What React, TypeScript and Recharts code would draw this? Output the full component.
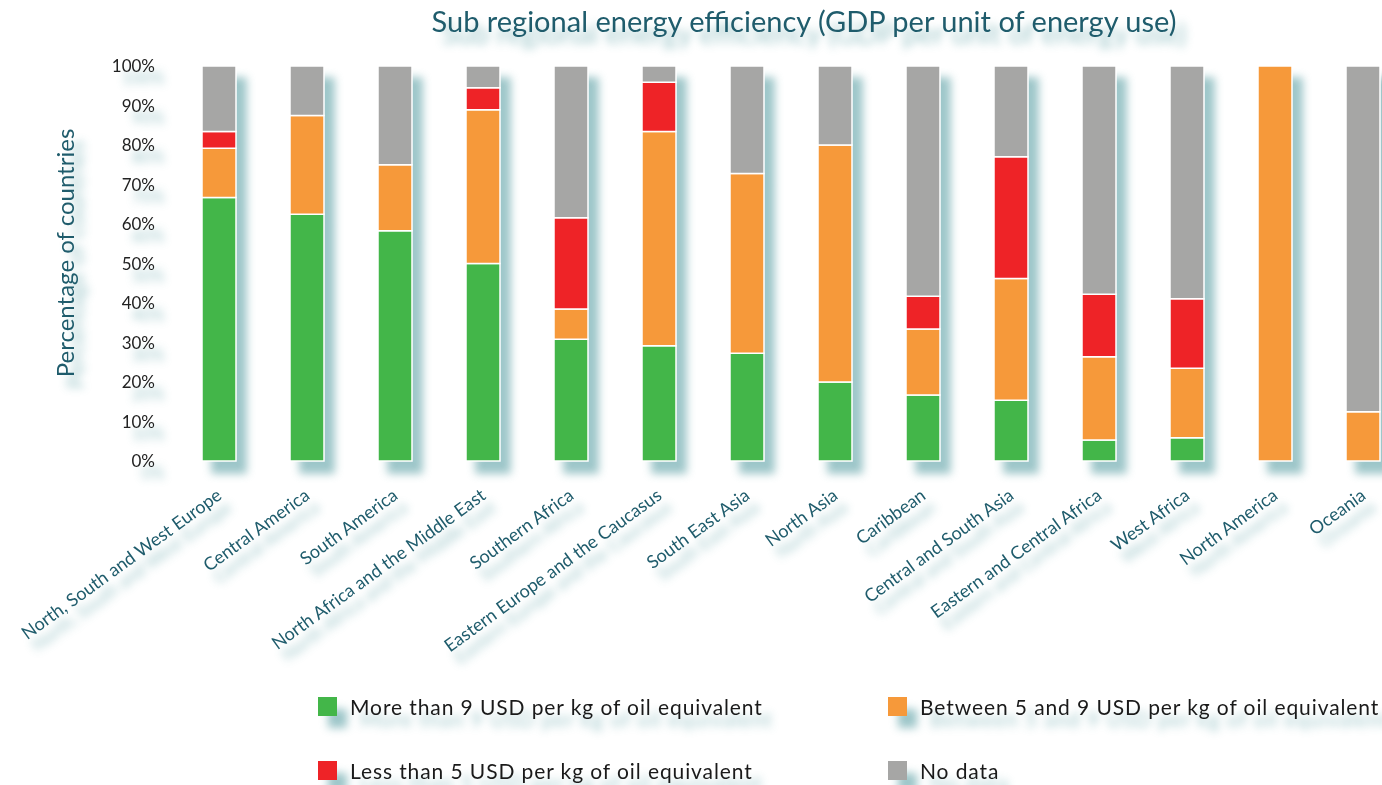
import { Bar, BarChart, Legend, XAxis, YAxis } from "recharts";

const regions = [
  "North, South and West Europe",
  "Central America",
  "South America",
  "North Africa and the Middle East",
  "Southern Africa",
  "Eastern Europe and the Caucasus",
  "South East Asia",
  "North Asia",
  "Caribbean",
  "Central and South Asia",
  "Eastern and Central Africa",
  "West Africa",
  "North America",
  "Oceania",
];

// share of countries (%) in each sub region
const moreThan9 = [66.7, 62.5, 58.3, 50.0, 30.8, 29.2, 27.3, 20.0, 16.7, 15.4, 5.3, 5.9, 0, 0];
const between5And9 = [12.5, 25.0, 16.7, 38.9, 7.7, 54.2, 45.5, 60.0, 16.7, 30.8, 21.1, 17.6, 100, 12.5];
const lessThan5 = [4.2, 0, 0, 5.6, 23.1, 12.5, 0, 0, 8.3, 30.8, 15.8, 17.6, 0, 0];
const noData = [16.6, 12.5, 25.0, 5.5, 38.4, 4.1, 27.2, 20.0, 58.3, 23.0, 57.8, 58.9, 0, 87.5];

const yTicks = [0, 10, 20, 30, 40, 50, 60, 70, 80, 90, 100];

const series = [
  { key: "moreThan9", name: "More than 9 USD per kg of oil equivalent", color: "#43b649" },
  { key: "between5And9", name: "Between 5 and 9 USD per kg of oil equivalent", color: "#f6993a" },
  { key: "lessThan5", name: "Less than 5 USD per kg of oil equivalent", color: "#ee2327" },
  { key: "noData", name: "No data", color: "#a6a6a5" },
];

const data = regions.map((region, i) => ({
  region,
  moreThan9: moreThan9[i],
  between5And9: between5And9[i],
  lessThan5: lessThan5[i],
  noData: noData[i],
}));

const teal = "#1f5c6c";
const font = "Lato, 'Open Sans', sans-serif";

function RegionTick({ x, y, payload }: any) {
  return (
    <text
      transform={`translate(${x + 4},${y + 37}) rotate(-36)`}
      textAnchor="end"
      fill={teal}
      fontSize={18}
      fontFamily={font}
    >
      {payload.value}
    </text>
  );
}

function LegendGrid() {
  return (
    <div
      style={{
        display: "grid",
        gridTemplateColumns: "570px 520px",
        rowGap: 42,
        fontFamily: font,
        fontSize: 21,
        letterSpacing: 0.9,
        color: "#1a1a1a",
      }}
    >
      {series.map((s) => (
        <div key={s.key} style={{ display: "flex", alignItems: "center", height: 22 }}>
          <span style={{ width: 19, height: 19, background: s.color, marginRight: 13, display: "inline-block" }} />
          <span>{s.name}</span>
        </div>
      ))}
    </div>
  );
}

export default function App() {
  return (
    <div
      style={{
        position: "fixed",
        left: 0,
        top: 0,
        width: 1382,
        height: 785,
        overflow: "hidden",
        background: "#fff",
      }}
    >
      <div style={{ position: "relative", filter: "drop-shadow(10px 12px 4px rgba(38, 128, 136, 0.45))" }}>
        <div
          style={{
            position: "absolute",
            left: 0,
            top: 3,
            width: 1608,
            textAlign: "center",
            fontFamily: font,
            fontSize: 29,
            color: teal,
            zIndex: 2,
          }}
        >
          Sub regional energy efficiency (GDP per unit of energy use)
        </div>
        <BarChart
          width={1417}
          height={785}
          data={data}
          margin={{ top: 66, right: 10, bottom: 0, left: 0 }}
          barSize={34}
        >
          <XAxis
            dataKey="region"
            interval={0}
            height={324}
            axisLine={false}
            tickLine={false}
            tickSize={0}
            tickMargin={0}
            tick={<RegionTick />}
          />
          <YAxis
            width={175}
            domain={[0, 100]}
            ticks={yTicks}
            tickFormatter={(v: number) => `${v}%`}
            axisLine={false}
            tickLine={false}
            tickSize={0}
            tickMargin={20}
            tick={{ fill: "#222", fontSize: 17, fontFamily: font }}
            label={{
              content: () => (
                <text
                  transform="translate(74,253) rotate(-90)"
                  textAnchor="middle"
                  fill={teal}
                  fontSize={24}
                  fontFamily={font}
                >
                  Percentage of countries
                </text>
              ),
            }}
          />
          <Legend
            layout="horizontal"
            verticalAlign="middle"
            align="center"
            content={() => <LegendGrid />}
            wrapperStyle={{ top: 695, left: 318, width: 1100 }}
          />
          {series.map((s) => (
            <Bar
              key={s.key}
              dataKey={s.key}
              name={s.name}
              stackId="share"
              fill={s.color}
              stroke="#fff"
              strokeWidth={1.5}
              isAnimationActive={false}
            />
          ))}
        </BarChart>
      </div>
    </div>
  );
}
